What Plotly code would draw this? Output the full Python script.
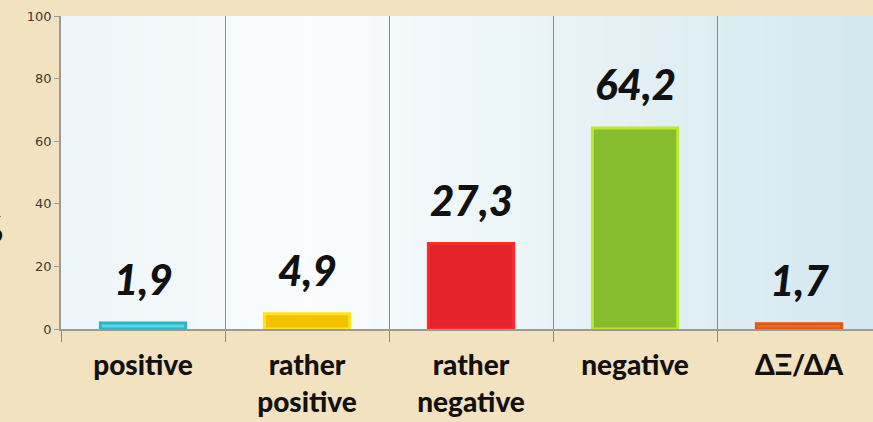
import plotly.graph_objects as go

categories = ["positive", "rather<br>positive", "rather<br>negative", "negative", "ΔΞ/ΔΑ"]
values = [1.9, 4.9, 27.3, 64.2, 1.7]
value_labels = ["1,9", "4,9", "27,3", "64,2", "1,7"]
y_ticks = [0, 20, 40, 60, 80, 100]

fill_colors = ["#55dbe9", "#f2c200", "#e5232a", "#86bd2e", "#f06a1c"]
edge_colors = ["#2fb2c4", "#ffe31c", "#ff2b2b", "#b9ea2c", "#e4560e"]

fig = go.Figure()
fig.add_trace(go.Bar(
    x=categories, y=values, width=0.52,
    marker=dict(color=fill_colors, line=dict(color=edge_colors, width=3)),
    hoverinfo="skip",
))

for c, v, t in zip(categories, values, value_labels):
    fig.add_annotation(x=c, y=v, text=t, showarrow=False, yanchor="bottom", yshift=17,
                       font=dict(family="Lato", size=42, color="#111111", weight=900, style="italic"))

# plot area background gradient (light blue), drawn as strips
n = 60
def mix(a, b, t):
    return tuple(round(a[i] + (b[i] - a[i]) * t) for i in range(3))
left = (236, 245, 248)
mid = (250, 252, 253)
right = (211, 232, 239)
for i in range(n):
    f = i / (n - 1)
    if f < 0.3:
        col = mix(left, mid, f / 0.3)
    else:
        col = mix(mid, right, (f - 0.3) / 0.7)
    fig.add_shape(type="rect", xref="paper", yref="paper", x0=i / n, x1=(i + 1) / n + 0.002,
                  y0=0, y1=1, fillcolor="rgb(%d,%d,%d)" % col, line=dict(width=0), layer="below")

fig.add_annotation(xref="paper", yref="paper", x=(6 - 61) / 812, y=(329 - 228) / 313, text="%",
                   showarrow=False, xanchor="right", yanchor="middle",
                   font=dict(family="Lato", size=36, color="#111111", weight="bold"))

fig.update_layout(
    width=873, height=422,
    margin=dict(l=61, r=0, t=16, b=93),
    paper_bgcolor="#f3e2bf",
    plot_bgcolor="rgba(0,0,0,0)",
    showlegend=False,
    xaxis=dict(
        type="category", range=[-0.5, -0.5 + 812 / 164], automargin=False,
        tickson="boundaries", showgrid=True, gridcolor="#8a8a8a", gridwidth=1,
        ticks="outside", ticklen=11, tickcolor="#8a8a8a",
        showline=True, linecolor="#9a9a9a", linewidth=1.5,
        tickfont=dict(family="Lato", size=28, color="#111111", weight=900),
        ticklabelstandoff=11,
    ),
    yaxis=dict(
        range=[0, 100], tickvals=y_ticks, ticktext=[str(v) for v in y_ticks],
        showgrid=False, zeroline=False, automargin=False,
        ticks="outside", ticklen=5, tickcolor="#9a9a9a",
        showline=True, linecolor="#9a9a9a", linewidth=1.5,
        tickfont=dict(family="DejaVu Sans", size=13, color="#3a3a3a"),
    ),
)

fig.write_html("out.html", config={"displayModeBar": False},
               post_script="document.body.style.margin='0px';document.body.style.background='#f3e2bf';")
